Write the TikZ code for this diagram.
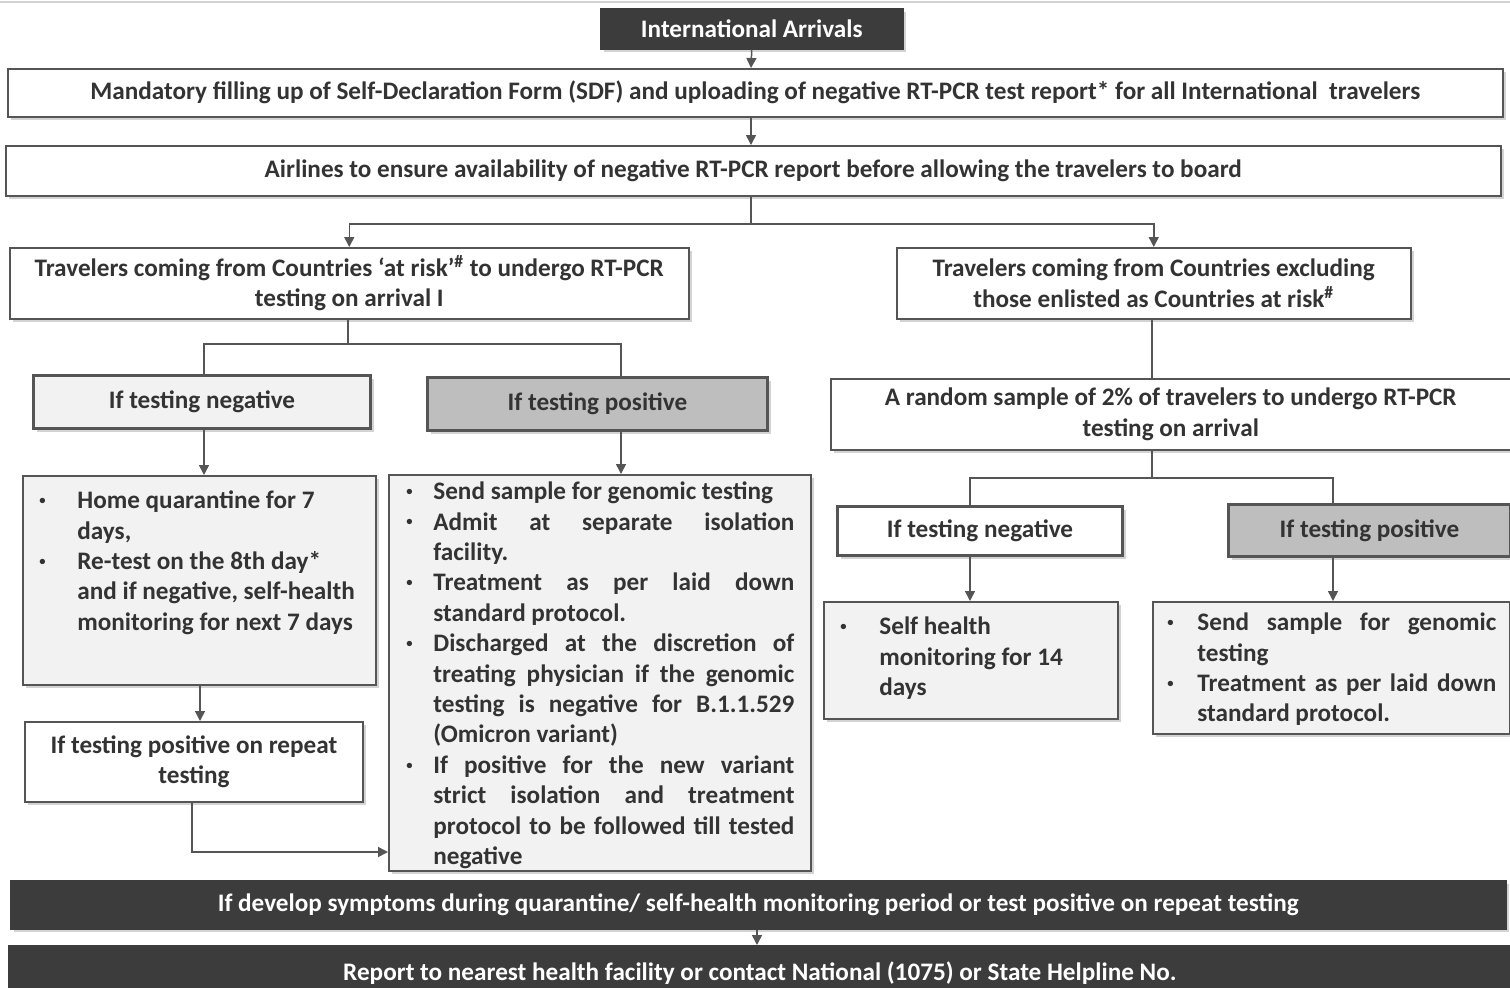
\documentclass[tikz,border=0pt]{standalone}
\usepackage{fontspec}
\setmainfont{Carlito}
\usetikzlibrary{arrows.meta,shadows}
\definecolor{txt}{HTML}{333333}
\definecolor{edge}{HTML}{555555}
\definecolor{darkfill}{HTML}{3C3C3C}
\definecolor{lightfill}{HTML}{F2F2F2}
\definecolor{midfill}{HTML}{BEBEBE}
\newcommand{\jl}[1]{\makebox[\linewidth][s]{#1}}
\newcommand{\bul}{\makebox[6pt]{\raisebox{0.35ex}{\scalebox{0.5}{\textbullet}}}}
\newcommand{\bodyfont}{\bfseries\fontsize{12.6}{15.2}\selectfont}
\tikzset{
  base/.style={draw=edge, line width=0.75pt, text=txt,
    font=\bodyfont, align=center, inner sep=0pt,
    anchor=north west,
    drop shadow={shadow xshift=1.5pt, shadow yshift=-1.5pt, opacity=0.35}},
  wbox/.style={base, fill=white},
  lbox/.style={base, fill=lightfill},
  nbox/.style={base, fill=lightfill, line width=1.5pt},
  pbox/.style={base, fill=midfill, line width=1.5pt},
  dbox/.style={base, fill=darkfill, draw=darkfill, text=white},
  txtnode/.style={text=txt, font=\bodyfont, inner sep=0pt, anchor=north west, align=left},
  conn/.style={draw=edge, line width=0.75pt},
  arr/.style={conn, -{Triangle[length=5pt,width=5pt]}},
}
\begin{document}
\begin{tikzpicture}[x=0.5pt,y=-0.5pt]
\useasboundingbox (0,0) rectangle (1510,987);
\draw[gray!35, line width=1pt] (0,2) -- (1510,2);

% boxes
\node[dbox, minimum width=151pt, minimum height=20pt] (arr) at (600,8) {International Arrivals};
\node[wbox, minimum width=747.5pt, minimum height=24pt] (b1) at (7,68) {Mandatory filling up of Self-Declaration Form (SDF) and uploading of negative RT-PCR test report* for all International\ \ travelers};
\node[wbox, minimum width=747.5pt, minimum height=25pt] (b2) at (5,145) {Airlines to ensure availability of negative RT-PCR report before allowing the travelers to board};
\node[wbox, minimum width=339.5pt, minimum height=35.5pt] (l1) at (9,247) {Travelers coming from Countries ‘at risk’\textsuperscript{\#} to undergo RT-PCR\\testing on arrival I};
\node[wbox, minimum width=257pt, minimum height=35.5pt] (r1) at (896,247) {Travelers coming from Countries excluding\\those enlisted as Countries at risk\textsuperscript{\#}};
\node[nbox, minimum width=168.5pt, minimum height=26.5pt] (ln) at (32,374) {If testing negative};
\node[pbox, minimum width=170pt, minimum height=26.5pt] (lp) at (426,376) {If testing positive};
\node[lbox, minimum width=176.5pt, minimum height=104.5pt] (lnb) at (22,475) {};
\node[lbox, minimum width=211pt, minimum height=198pt] (lpb) at (388,474) {};
\node[wbox, line width=1pt, minimum width=169pt, minimum height=40pt] (lr) at (24,721) {If testing positive on repeat\\testing};
\node[wbox, minimum width=340pt, minimum height=35.5pt] (rs) at (830,378) {A random sample of 2\% of travelers to undergo RT-PCR\\testing on arrival};
\node[nbox, fill=white, minimum width=142.5pt, minimum height=24.5pt] (rn) at (836,505) {If testing negative};
\node[pbox, minimum width=141pt, minimum height=26pt] (rp) at (1227,503) {If testing positive};
\node[lbox, minimum width=147pt, minimum height=58.5pt] (rnb) at (823,601) {};
\node[lbox, minimum width=178.5pt, minimum height=66pt] (rpb) at (1152,601) {};
\node[dbox, minimum width=747.5pt, minimum height=24pt] (s1) at (10,880) {If develop symptoms during quarantine/ self-health monitoring period or test positive on repeat testing};
\node[dbox, minimum width=751pt, minimum height=27pt] (s2) at (8,945) {Report to nearest health facility or contact National (1075) or State Helpline No.};

% bullet texts
\node[txtnode] (lnt) at (36,487) {%
\begin{tabular}{@{}p{20.5pt}@{}p{150pt}@{}}
\bul & Home quarantine for 7\\
 & days,\\
\bul & Re-test on the 8th day*\\
 & and if negative, self-health\\
 & monitoring for next 7 days
\end{tabular}};
\node[txtnode] (lpt) at (403,478) {%
\begin{tabular}{@{}p{15pt}@{}p{180.5pt}@{}}
\bul & Send sample for genomic testing\\
\bul & \jl{Admit at separate isolation}\\
 & facility.\\
\bul & \jl{Treatment as per laid down}\\
 & standard protocol.\\
\bul & \jl{Discharged at the discretion of}\\
 & \jl{treating physician if the genomic}\\
 & \jl{testing is negative for B.1.1.529}\\
 & (Omicron variant)\\
\bul & \jl{If positive for the new variant}\\
 & \jl{strict isolation and treatment}\\
 & \jl{protocol to be followed till tested}\\
 & negative
\end{tabular}};
\node[txtnode] (rnt) at (837,613) {%
\begin{tabular}{@{}p{21pt}@{}p{120pt}@{}}
\bul & Self health\\
 & monitoring for 14\\
 & days
\end{tabular}};
\node[txtnode] (rpt) at (1164,609) {%
\begin{tabular}{@{}p{16.5pt}@{}p{149.5pt}@{}}
\bul & \jl{Send sample for genomic}\\
 & testing\\
\bul & \jl{Treatment as per laid down}\\
 & standard protocol.
\end{tabular}};

% connectors
\coordinate (cA) at (751,0);
\draw[arr] (arr.south) -- (cA |- b1.north);
\draw[arr] (cA |- b1.south) -- (cA |- b2.north);
\coordinate (j1) at (751,224);
\draw[conn] (cA |- b2.south) -- (j1);
\draw[arr] (j1) -| (l1.north);
\draw[arr] (j1) -| (r1.north);

\coordinate (j2) at (348,344);
\coordinate (j2l) at (204,344);
\coordinate (j2r) at (621,344);
\draw[conn] (j2 |- l1.south) -- (j2);
\draw[conn] (j2l |- ln.north) -- (j2l) -- (j2r) -- (j2r |- lp.north);
\draw[arr] (j2l |- ln.south) -- (j2l |- lnb.north);
\draw[arr] (j2r |- lp.south) -- (j2r |- lpb.north);
\coordinate (c3) at (200,0);
\draw[arr] (c3 |- lnb.south) -- (c3 |- lr.north);
\coordinate (c4) at (192,852);
\draw[arr] (c4 |- lr.south) -- (c4) -- (c4 -| lpb.west);

\coordinate (c5) at (1152,0);
\draw[conn] (c5 |- r1.south) -- (c5 |- rs.north);
\coordinate (j3) at (1152,478);
\coordinate (j3l) at (970,478);
\coordinate (j3r) at (1333,478);
\draw[conn] (c5 |- rs.south) -- (j3);
\draw[conn] (j3l |- rn.north) -- (j3l) -- (j3r) -- (j3r |- rp.north);
\draw[arr] (j3l |- rn.south) -- (j3l |- rnb.north);
\draw[arr] (j3r |- rp.south) -- (j3r |- rpb.north);

\coordinate (c6) at (757,0);
\draw[arr] (c6 |- s1.south) -- (c6 |- s2.north);
\end{tikzpicture}
\end{document}
